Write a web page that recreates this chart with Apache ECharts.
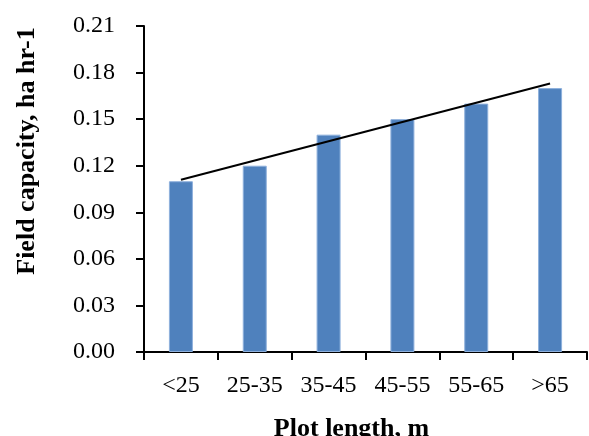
<!DOCTYPE html>
<html>
<head>
<meta charset="utf-8">
<script src="https://cdn.jsdelivr.net/npm/echarts@6/dist/echarts.min.js"></script>
<style>html,body{margin:0;padding:0;background:#fff}#c{width:589px;height:436px}</style>
</head>
<body>
<div id="c"></div>
<script>
const categories = ['<25', '25-35', '35-45', '45-55', '55-65', '>65'];
const capacity = [0.11, 0.12, 0.14, 0.15, 0.16, 0.17];
const trend = [0.111, null, null, null, null, 0.173];
const yTicks = { min: 0, max: 0.21, interval: 0.03 };

const chart = echarts.init(document.getElementById('c'));
const serif = '"Liberation Serif", "DejaVu Serif", serif';
chart.setOption({
  animation: false,
  grid: { left: 144, right: 2, top: 26, bottom: 84, containLabel: false, outerBoundsMode: 'none' },
  xAxis: {
    type: 'category',
    data: categories,
    name: 'Plot length, m',
    nameLocation: 'middle',
    nameGap: 64,
    nameTextStyle: { fontFamily: serif, fontWeight: 'bold', fontSize: 26, color: '#000', padding: [0, 28, 0, 0] },
    axisLine: { lineStyle: { color: '#000', width: 2 } },
    axisTick: { show: true, length: 8, lineStyle: { color: '#000', width: 2 } },
    axisLabel: { fontFamily: serif, fontSize: 24, color: '#000', margin: 22 }
  },
  yAxis: {
    type: 'value',
    min: yTicks.min, max: yTicks.max, interval: yTicks.interval,
    name: 'Field capacity, ha hr-1',
    nameLocation: 'middle',
    nameGap: 104,
    nameTextStyle: { fontFamily: serif, fontWeight: 'bold', fontSize: 26, color: '#000', padding: [0, 0, 0, 76] },
    axisLine: { show: true, lineStyle: { color: '#000', width: 2 } },
    axisTick: { show: true, length: 8, lineStyle: { color: '#000', width: 2 } },
    splitLine: { show: false },
    axisLabel: { fontFamily: serif, fontSize: 24, color: '#000', margin: 29, formatter: v => v.toFixed(2) }
  },
  series: [
    {
      type: 'bar',
      data: capacity,
      barWidth: 24,
      itemStyle: { color: '#4F81BD', borderColor: '#8EB0DC', borderWidth: 1 }
    },
    {
      type: 'line',
      data: trend,
      connectNulls: true,
      symbol: 'none',
      lineStyle: { color: '#000', width: 2 },
      z: 5
    }
  ]
});
</script>
</body>
</html>
